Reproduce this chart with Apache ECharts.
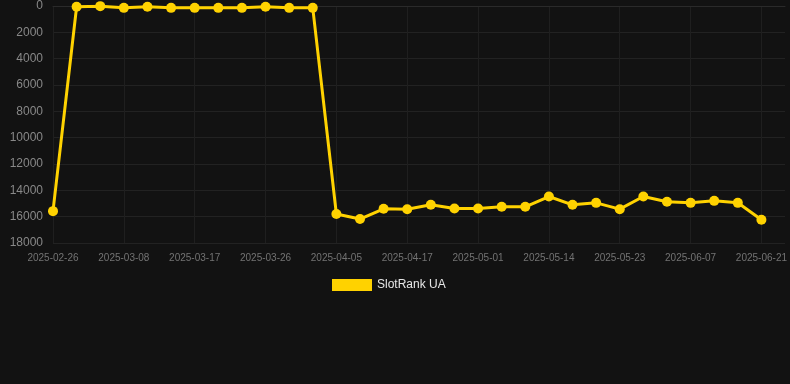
<!DOCTYPE html>
<html>
<head>
<meta charset="utf-8">
<script src="https://cdn.jsdelivr.net/npm/echarts@6/dist/echarts.min.js"></script>
<style>
html,body{margin:0;padding:0;background:#121212;}
#chart{width:790px;height:384px;}
</style>
</head>
<body>
<div id="chart"></div>
<script>
// dates (every 3rd one is shown on the axis)
let dates = ["2025-02-26","2025-02-28","2025-03-04","2025-03-08","2025-03-11","2025-03-14","2025-03-17","2025-03-20","2025-03-23","2025-03-26","2025-03-29","2025-04-01","2025-04-05","2025-04-09","2025-04-13","2025-04-17","2025-04-21","2025-04-26","2025-05-01","2025-05-05","2025-05-09","2025-05-14","2025-05-17","2025-05-20","2025-05-23","2025-05-28","2025-06-02","2025-06-07","2025-06-11","2025-06-16","2025-06-21"];
let rankUA = [15580,60,10,140,60,140,140,140,140,60,140,140,15800,16180,15400,15430,15100,15380,15380,15250,15250,14470,15100,14950,15430,14470,14870,14950,14800,14950,16240];
let yTicks = {min:0, max:18000, step:2000};
let seriesName = "SlotRank UA";

let myChart = echarts.init(document.getElementById("chart"));
let opt = {
	backgroundColor:"#121212",
	animation:false,
	grid:{left:53,right:0,top:6,bottom:141},
	legend:{
		data:[seriesName],
		bottom:88,
		left:327,
		icon:"rect",
		itemWidth:40,
		itemHeight:12,
		itemGap:10,
		textStyle:{color:"#e6e6e6",fontSize:12,fontFamily:"Liberation Sans, Arial, sans-serif"}
	},
	xAxis:{
		type:"category",
		data:dates,
		boundaryGap:false,
		max:31.22,
		axisLine:{lineStyle:{color:"#2a2a2a"}},
		axisTick:{show:false},
		axisLabel:{interval:2,color:"#737373",fontSize:10,margin:10,fontFamily:"Liberation Sans, Arial, sans-serif"},
		splitLine:{show:true,interval:2,lineStyle:{color:"#1f1f1f"}}
	},
	yAxis:{
		type:"value",
		inverse:true,
		min:yTicks.min,
		max:yTicks.max,
		interval:yTicks.step,
		axisLine:{show:false},
		axisTick:{show:false},
		axisLabel:{color:"#888",fontSize:12,margin:10,fontFamily:"Liberation Sans, Arial, sans-serif",formatter:function(v){return String(v);}},
		splitLine:{lineStyle:{color:"#222"}}
	},
	series:[{
		name:seriesName,
		type:"line",
		data:rankUA,
		symbol:"circle",
		symbolSize:10,
		showAllSymbol:true,
		lineStyle:{width:3,color:"#ffd200"},
		itemStyle:{color:"#ffd200"}
	}]
};
myChart.setOption(opt);
</script>
</body>
</html>
